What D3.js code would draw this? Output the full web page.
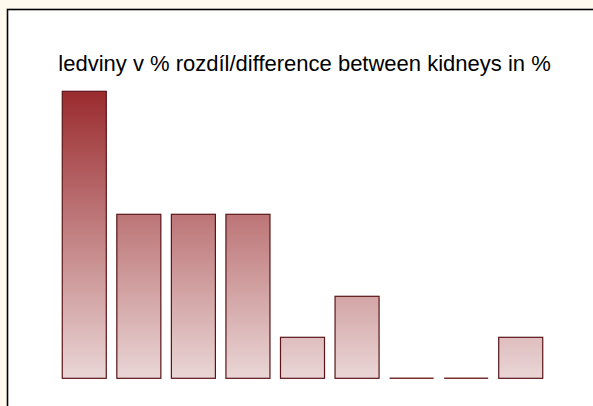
<!DOCTYPE html>
<html>
<head>
<meta charset="utf-8">
<script src="https://cdn.jsdelivr.net/npm/d3@7"></script>
<style>
  html, body { margin: 0; padding: 0; background: #fffaed; }
  svg { display: block; }
</style>
</head>
<body>
<svg id="chart" width="593" height="406"></svg>
<script>
// bar categories and values (counts)
var categories = ["1", "2", "3", "4", "5", "6", "7", "8", "9"];
var values = [7, 4, 4, 4, 1, 2, 0, 0, 1];
var title = "ledviny v % rozdíl/difference between kidneys in %";

var svg = d3.select("#chart");

// white plot panel with black frame running off the right/bottom edge
svg.append("rect")
    .attr("x", 7.5).attr("y", 9.5)
    .attr("width", 600).attr("height", 410)
    .attr("fill", "#fff")
    .attr("stroke", "#000")
    .attr("stroke-width", 1.6);

var x = d3.scaleBand()
    .domain(categories)
    .range([57, 548])
    .paddingInner(0.193)
    .paddingOuter(0.0965);

var y = d3.scaleLinear()
    .domain([0, 7])
    .range([378.3, 91.3]);

// gradient spans the whole value range, so short bars start lighter
var defs = svg.append("defs");
var grad = defs.append("linearGradient")
    .attr("id", "barGrad")
    .attr("gradientUnits", "userSpaceOnUse")
    .attr("x1", 0).attr("x2", 0)
    .attr("y1", y(7)).attr("y2", y(0));
grad.append("stop").attr("offset", "0%").attr("stop-color", "#9a2b2e");
grad.append("stop").attr("offset", "100%").attr("stop-color", "#ead6d6");

svg.append("text")
    .attr("x", 304.5)
    .attr("y", 71)
    .attr("text-anchor", "middle")
    .style("font-family", "Arial, 'Liberation Sans', sans-serif")
    .style("font-size", "22px")
    .attr("fill", "#000")
    .text(title);

var bars = svg.selectAll(".bar")
    .data(values)
    .enter().append("g")
    .attr("class", "bar");

bars.each(function (d, i) {
    var g = d3.select(this);
    var bx = x(categories[i]);
    if (d > 0) {
        g.append("rect")
            .attr("x", bx)
            .attr("y", y(d))
            .attr("width", x.bandwidth())
            .attr("height", y(0) - y(d))
            .attr("fill", "url(#barGrad)")
            .attr("stroke", "#5a1518")
            .attr("stroke-width", 1.2);
    } else {
        // zero values show as a flat line on the baseline
        g.append("line")
            .attr("x1", bx).attr("x2", bx + x.bandwidth())
            .attr("y1", y(0)).attr("y2", y(0))
            .attr("stroke", "#7a2f30")
            .attr("stroke-width", 1.4);
    }
});
</script>
</body>
</html>
